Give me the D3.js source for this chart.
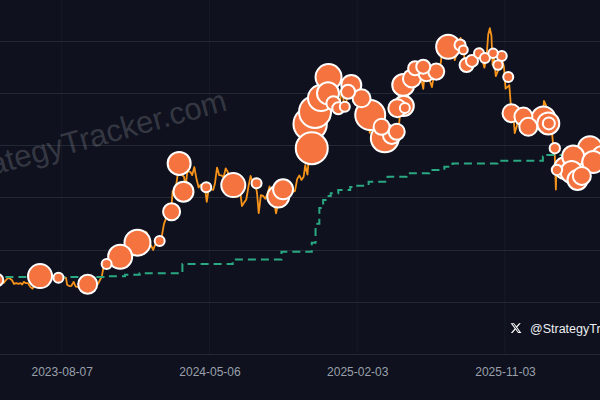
<!DOCTYPE html>
<html>
<head>
<meta charset="utf-8">
<script src="https://cdn.jsdelivr.net/npm/d3@7"></script>
<style>
  html, body { margin: 0; padding: 0; background: #0f121e; overflow: hidden; }
  svg { display: block; font-family: "Liberation Sans", Arial, Helvetica, sans-serif; }
</style>
</head>
<body>
<svg id="chart" width="600" height="400"></svg>
<script>
// BTC price (thousand USD)
var priceDates = [
  "2023-04-10","2023-04-15","2023-04-19","2023-04-22","2023-04-26","2023-04-30","2023-05-03","2023-05-07",
  "2023-05-11","2023-05-15","2023-05-19","2023-05-23","2023-05-26","2023-05-29","2023-06-02","2023-06-06",
  "2023-06-10","2023-06-14","2023-06-18","2023-06-21","2023-06-25","2023-06-29","2023-07-03","2023-07-07",
  "2023-07-11","2023-07-14","2023-07-18","2023-07-22","2023-07-26","2023-07-30","2023-08-03","2023-08-07",
  "2023-08-11","2023-08-15","2023-08-17","2023-08-21","2023-08-25","2023-08-29","2023-09-02","2023-09-06",
  "2023-09-11","2023-09-15","2023-09-19","2023-09-23","2023-09-27","2023-10-01","2023-10-05","2023-10-09",
  "2023-10-13","2023-10-17","2023-10-20","2023-10-23","2023-10-27","2023-10-31","2023-11-04","2023-11-09",
  "2023-11-13","2023-11-17","2023-11-21","2023-11-25","2023-11-29","2023-12-03","2023-12-06","2023-12-10",
  "2023-12-14","2023-12-18","2023-12-22","2023-12-26","2023-12-30","2024-01-03","2024-01-08","2024-01-11",
  "2024-01-15","2024-01-19","2024-01-23","2024-01-27","2024-01-31","2024-02-04","2024-02-08","2024-02-12",
  "2024-02-16","2024-02-20","2024-02-24","2024-02-28","2024-03-02","2024-03-05","2024-03-08","2024-03-11",
  "2024-03-14","2024-03-17","2024-03-20","2024-03-23","2024-03-26","2024-03-29","2024-04-01","2024-04-04",
  "2024-04-08","2024-04-12","2024-04-16","2024-04-20","2024-04-24","2024-04-28","2024-05-01","2024-05-05",
  "2024-05-09","2024-05-13","2024-05-16","2024-05-20","2024-05-24","2024-05-28","2024-06-01","2024-06-05",
  "2024-06-09","2024-06-13","2024-06-17","2024-06-21","2024-06-24","2024-06-28","2024-07-02","2024-07-05",
  "2024-07-09","2024-07-13","2024-07-17","2024-07-21","2024-07-25","2024-07-29","2024-08-02","2024-08-05",
  "2024-08-09","2024-08-13","2024-08-17","2024-08-21","2024-08-25","2024-08-29","2024-09-02","2024-09-06",
  "2024-09-10","2024-09-14","2024-09-18","2024-09-22","2024-09-26","2024-09-30","2024-10-04","2024-10-08",
  "2024-10-11","2024-10-15","2024-10-19","2024-10-23","2024-10-27","2024-10-30","2024-11-03","2024-11-06",
  "2024-11-10","2024-11-13","2024-11-17","2024-11-21","2024-11-25","2024-11-29","2024-12-03","2024-12-05",
  "2024-12-09","2024-12-13","2024-12-17","2024-12-20","2024-12-24","2024-12-28","2025-01-01","2025-01-06",
  "2025-01-10","2025-01-14","2025-01-17","2025-01-21","2025-01-24","2025-01-27","2025-01-31","2025-02-03",
  "2025-02-07","2025-02-11","2025-02-15","2025-02-19","2025-02-24","2025-02-26","2025-03-01","2025-03-04",
  "2025-03-08","2025-03-11","2025-03-14","2025-03-18","2025-03-22","2025-03-26","2025-03-30","2025-04-03",
  "2025-04-07","2025-04-09","2025-04-13","2025-04-17","2025-04-21","2025-04-24","2025-04-28","2025-05-02",
  "2025-05-06","2025-05-09","2025-05-13","2025-05-17","2025-05-21","2025-05-24","2025-05-28","2025-06-01",
  "2025-06-05","2025-06-09","2025-06-13","2025-06-17","2025-06-21","2025-06-24","2025-06-28","2025-07-02",
  "2025-07-06","2025-07-10","2025-07-14","2025-07-18","2025-07-22","2025-07-26","2025-07-30","2025-08-02",
  "2025-08-06","2025-08-10","2025-08-13","2025-08-17","2025-08-21","2025-08-25","2025-08-29","2025-09-02",
  "2025-09-06","2025-09-10","2025-09-14","2025-09-18","2025-09-22","2025-09-26","2025-09-30","2025-10-03",
  "2025-10-06","2025-10-09","2025-10-11","2025-10-14","2025-10-17","2025-10-21","2025-10-25","2025-10-28",
  "2025-11-01","2025-11-04","2025-11-08","2025-11-11","2025-11-14","2025-11-18","2025-11-21","2025-11-25",
  "2025-11-29","2025-12-01","2025-12-04","2025-12-08","2025-12-12","2025-12-16","2025-12-19","2025-12-23",
  "2025-12-27","2025-12-31","2026-01-04","2026-01-08","2026-01-12","2026-01-14","2026-01-18","2026-01-21",
  "2026-01-25","2026-01-29","2026-02-01","2026-02-03","2026-02-05","2026-02-06","2026-02-10","2026-02-14",
  "2026-02-18","2026-02-22","2026-02-26","2026-03-02","2026-03-06","2026-03-10","2026-03-14","2026-03-18",
  "2026-03-22","2026-03-26","2026-03-30","2026-04-03","2026-04-07","2026-04-11","2026-04-15","2026-04-19",
  "2026-04-23","2026-04-27","2026-05-01"
];
var priceK = [
  28.3,30.3,28.8,27.3,28.4,29.2,29.0,28.4,
  26.9,27.2,26.9,27.2,26.7,27.7,27.2,27.2,
  25.8,25.1,26.3,30.0,30.5,30.4,31.1,30.3,
  30.6,30.3,29.9,29.8,29.4,29.3,29.2,29.1,
  29.4,29.2,26.6,26.1,26.2,27.7,25.9,25.8,
  25.2,26.6,27.2,26.6,26.4,28.0,27.4,27.6,
  26.9,28.5,29.7,33.0,33.9,34.6,35.0,36.7,
  36.5,36.6,35.8,37.7,37.8,39.5,44.0,43.7,
  43.0,42.6,44.0,42.5,42.1,42.8,46.9,46.6,
  42.5,41.6,39.9,42.1,42.6,42.6,45.3,49.9,
  52.1,52.3,51.6,62.4,62.0,63.8,68.3,72.1,
  71.4,68.4,67.9,64.0,69.9,69.9,69.7,68.5,
  71.6,67.1,63.8,64.9,64.3,63.1,58.3,63.9,
  63.1,62.9,65.2,71.4,68.5,68.4,67.7,71.1,
  69.6,66.8,66.5,64.1,60.3,60.3,62.1,56.7,
  58.0,59.2,64.1,68.2,65.8,66.8,61.4,54.0,
  60.9,60.6,59.5,61.2,64.2,59.4,59.1,53.9,
  57.6,60.0,61.8,63.3,65.2,63.3,62.1,62.2,
  62.5,67.0,68.4,66.7,67.9,72.3,68.7,75.9,
  80.5,90.4,89.8,98.3,93.0,97.5,96.0,97.7,
  97.3,101.4,106.1,97.8,98.7,94.3,94.4,102.1,
  94.7,96.5,104.4,106.1,104.7,102.0,102.4,101.4,
  96.6,95.8,97.6,96.6,91.4,84.7,86.1,87.2,
  86.2,82.9,84.0,82.7,84.0,86.9,82.3,83.1,
  79.2,82.6,83.7,84.9,87.5,93.9,95.0,96.5,
  94.7,103.0,104.2,103.2,109.7,107.8,107.8,105.7,
  101.5,110.3,105.9,104.6,102.2,106.0,107.3,108.8,
  109.2,116.0,119.8,117.9,119.9,117.6,117.9,112.5,
  115.0,119.3,121.0,117.5,112.5,110.1,108.4,111.2,
  110.2,113.9,115.3,117.1,112.7,109.6,114.0,122.3,
  124.7,121.7,110.7,113.0,106.4,108.4,111.6,113.0,
  110.1,101.6,102.3,102.9,94.5,92.9,84.6,87.4,
  90.8,86.3,92.1,90.6,90.2,87.8,88.1,87.6,
  87.8,87.5,91.4,91.0,91.2,96.9,95.1,89.5,
  86.6,84.5,77.5,76.0,63.0,70.5,68.8,69.5,
  67.0,68.0,65.9,68.5,71.0,69.8,72.3,70.6,
  71.8,69.5,68.2,70.4,69.1,72.0,73.5,71.2,
  74.0,75.5,76.2
];

// Strategy average cost basis (thousand USD), steps
var costDates = [
  "2023-04-01","2023-10-30","2023-12-02","2023-12-29","2024-03-17","2024-06-18","2024-09-16","2024-11-11",
  "2024-11-18","2024-11-25","2024-12-02","2024-12-09","2024-12-16","2024-12-30","2025-01-21","2025-02-03",
  "2025-02-24","2025-03-31","2025-05-05","2025-06-16","2025-07-14","2025-07-29","2025-10-20","2026-01-12",
  "2026-01-20","2026-05-10"
];
var costK = [
  29.6,29.8,30.4,31.0,34.5,36.3,39.2,42.7,
  49.9,55.9,59.0,60.5,61.6,62.8,64.0,64.5,
  66.0,67.9,69.2,70.5,71.7,73.0,74.0,75.6,
  76.2,76.4
];

// purchases: date, price paid (thousand USD), BTC bought
var buyDates = [
  "2023-04-10","2023-06-28","2023-08-01","2023-09-24","2023-10-29","2023-11-23","2023-12-25","2024-02-04",
  "2024-02-26","2024-03-11","2024-03-19","2024-04-30","2024-06-19","2024-08-01","2024-09-10","2024-09-19",
  "2024-11-11","2024-11-08","2024-11-17","2024-11-28","2024-12-12","2024-12-11","2024-12-21","2024-12-30",
  "2025-01-11","2025-01-17","2025-01-23","2025-02-11","2025-02-27","2025-03-20","2025-03-26","2025-04-08",
  "2025-04-17","2025-04-18","2025-04-30","2025-05-02","2025-04-29","2025-05-15","2025-05-21","2025-06-05",
  "2025-06-11","2025-06-29","2025-07-21","2025-08-12","2025-08-18","2025-08-24","2025-09-03","2025-09-16",
  "2025-09-27","2025-10-12","2025-10-21","2025-10-28","2025-11-09","2025-11-15","2025-12-07","2025-12-16",
  "2026-01-13","2026-01-22","2026-01-23","2026-02-03","2026-02-07","2026-02-22","2026-03-09","2026-03-06",
  "2026-03-25","2026-04-09","2026-04-15","2026-05-03","2026-03-17"
];
var buyPriceK = [
  28.4,29.9,29.3,26.8,34.5,37.3,42.7,43.3,
  54.5,73.0,62.2,63.9,64.7,65.4,60.3,63.1,
  78.8,88.1,92.7,98.0,106.0,99.8,96.0,94.1,
  94.7,100.4,103.0,97.9,91.5,87.0,82.6,83.9,
  85.1,94.1,95.0,94.2,103.0,105.5,109.4,110.0,
  107.5,108.1,117.6,118.3,116.4,110.6,112.2,115.1,
  113.3,115.1,110.6,114.1,106.0,92.2,90.9,87.0,
  90.2,88.3,88.3,78.8,70.5,71.2,75.6,69.7,
  68.2,78.8,73.5,75.1,66.7
];
var buyBtc = [
  1150,18300,290,8600,290,18300,23100,290,
  5800,16000,10300,290,18300,290,14000,10300,
  41100,46000,41100,23100,23100,14000,2600,1150,
  290,2600,10300,7100,34500,4600,28600,7100,
  4600,7100,10300,290,14000,7100,2600,2600,
  4600,4600,18300,700,60,2600,1150,290,
  290,150,150,290,290,7100,7100,7100,
  18300,14000,1150,400,400,14000,14000,14000,
  7100,18300,14000,18300,10300
];

var tickDates = ["2023-08-07", "2024-05-06", "2025-02-03", "2025-11-03"];
var gridValues = [0, 20, 40, 60, 80, 100, 120];

var W = 600, H = 400;
var parse = d3.utcParse("%Y-%m-%d");

var svg = d3.select("#chart");

svg.append("rect")
    .attr("width", W)
    .attr("height", H)
    .attr("fill", "#0f121e");

var x = d3.scaleUtc()
    .domain([parse("2023-08-07"), parse("2025-11-03")])
    .range([61.7, 505]);
var y = d3.scaleLinear()
    .domain([0, 120])
    .range([354.3, 40.5]);
var r = d3.scaleSqrt()
    .domain([0, 56000])
    .range([4, 18]);

//  Grid ---
svg.append("g")
    .attr("class", "vgrid")
    .selectAll("line")
    .data(tickDates)
    .enter().append("line")
    .attr("x1", function (d) { return x(parse(d)); })
    .attr("x2", function (d) { return x(parse(d)); })
    .attr("y1", 0)
    .attr("y2", y(0))
    .attr("stroke", "#161b27")
    .attr("stroke-width", 1);

svg.append("g")
    .attr("class", "hgrid")
    .selectAll("line")
    .data(gridValues)
    .enter().append("line")
    .attr("x1", 0)
    .attr("x2", W)
    .attr("y1", function (d) { return Math.round(y(d)) + 0.5; })
    .attr("y2", function (d) { return Math.round(y(d)) + 0.5; })
    .attr("stroke", "#232835")
    .attr("stroke-width", 1);

//  Watermark ---
svg.append("text")
    .attr("transform", "translate(-46,186) rotate(-15.5)")
    .attr("font-size", 31)
    .attr("fill", "#ffffff")
    .attr("fill-opacity", 0.17)
    .text("StrategyTracker.com");

//  X axis labels ---
var xAxis = d3.axisBottom(x)
    .tickValues(tickDates.map(parse))
    .tickFormat(d3.utcFormat("%Y-%m-%d"))
    .tickSize(0)
    .tickPadding(0);
var axisG = svg.append("g")
    .attr("transform", "translate(0,367)")
    .call(xAxis);
axisG.select(".domain").remove();
axisG.selectAll("text")
    .attr("dy", "0.71em")
    .attr("fill", "#9aa0ab")
    .attr("font-size", 12)
    .attr("font-family", "Liberation Sans, Arial, sans-serif");

//  Price line ---
var prices = priceDates.map(function (d, i) { return { date: parse(d), v: priceK[i] }; });
svg.append("path")
    .datum(prices)
    .attr("fill", "none")
    .attr("stroke", "#f7931a")
    .attr("stroke-width", 1.8)
    .attr("stroke-linejoin", "round")
    .attr("d", d3.line()
        .x(function (d) { return x(d.date); })
        .y(function (d) { return y(d.v); }));

//  Cost basis ---
var cost = costDates.map(function (d, i) { return { date: parse(d), v: costK[i] }; });
svg.append("path")
    .datum(cost)
    .attr("fill", "none")
    .attr("stroke", "#2aa882")
    .attr("stroke-width", 2)
    .attr("stroke-dasharray", "8,5")
    .attr("d", d3.line()
        .curve(d3.curveStepAfter)
        .x(function (d) { return x(d.date); })
        .y(function (d) { return y(d.v); }));

//  Purchases (big ones first so small stay visible) ---
var buys = buyDates.map(function (d, i) {
    return { date: parse(d), v: buyPriceK[i], btc: buyBtc[i] };
}).sort(function (a, b) { return b.btc - a.btc; });

svg.append("g")
    .attr("class", "buys")
    .selectAll("circle")
    .data(buys)
    .enter().append("circle")
    .attr("cx", function (d) { return x(d.date); })
    .attr("cy", function (d) { return y(d.v); })
    .attr("r", function (d) { return r(d.btc); })
    .attr("fill", "#f4733f")
    .attr("stroke", "#ffffff")
    .attr("stroke-width", 2);

//  Handle ---
var handle = svg.append("g")
    .attr("transform", "translate(510,322)");
handle.append("path")
    .attr("transform", "scale(0.5)")
    .attr("fill", "#ffffff")
    .attr("d", "M18.244 2.25h3.308l-7.227 8.26 8.502 11.24H16.17l-5.214-6.817L4.99 21.75H1.68l7.73-8.835L1.254 2.25H8.08l4.713 6.231zm-1.161 17.52h1.833L7.084 4.126H5.117z");
handle.append("text")
    .attr("x", 20)
    .attr("y", 10.5)
    .attr("font-size", 12.5)
    .attr("fill", "#eceef1")
    .text("@StrategyTracker");
</script>
</body>
</html>
